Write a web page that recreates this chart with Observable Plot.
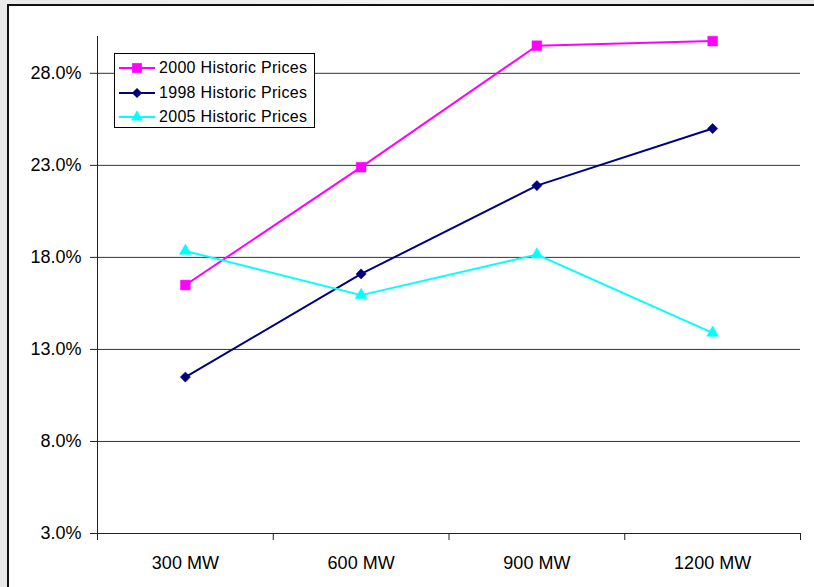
<!DOCTYPE html>
<html>
<head>
<meta charset="utf-8">
<script src="https://cdn.jsdelivr.net/npm/d3@7"></script>
<script src="https://cdn.jsdelivr.net/npm/@observablehq/plot@0.6"></script>
<style>
  html, body { margin: 0; padding: 0; }
  body {
    width: 814px; height: 587px; overflow: hidden; position: relative;
    background: linear-gradient(90deg, #e9e9e9 0%, #f3f3f3 50%, #e9e9e9 100%);
    font-family: "Liberation Sans", Arial, sans-serif;
  }
  #frame {
    position: absolute; left: 7px; top: 4px; width: 900px; height: 700px;
    background: white; border-left: 2px solid #111; border-top: 2px solid #111;
  }
  #chart { position: absolute; left: 0; top: 0; }
  #legend {
    position: absolute; left: 114px; top: 53px; width: 199px; height: 73px;
    border: 1px solid #000; background: white;
  }
  .item { position: absolute; left: 0; height: 24px; display: flex; align-items: center; }
  .item span { font-size: 16px; letter-spacing: 0.3px; color: #000; margin-left: 2px; }
</style>
</head>
<body>
<div id="frame"></div>
<div id="chart"></div>
<div id="legend"></div>
<script>
const categories = ["300 MW", "600 MW", "900 MW", "1200 MW"];
const seriesNames = ["2000 Historic Prices", "1998 Historic Prices", "2005 Historic Prices"];
const values2000 = [16.5, 22.9, 29.5, 29.75];
const values1998 = [11.5, 17.1, 21.9, 25.0];
const values2005 = [18.35, 15.95, 18.15, 13.9];
const seriesColors = ["#FF00FF", "#000080", "#00FFFF"];
const seriesSymbols = ["square", "diamond2", "triangle"];
const seriesRadius = [5.5, 4.6, 4.4];
const yTicks = [3, 8, 13, 18, 23, 28];
const gridTicks = [8, 13, 18, 23, 28];

const seriesValues = [values2000, values1998, values2005];
const data = [];
seriesValues.forEach((vals, s) => vals.forEach((v, i) => data.push({series: seriesNames[s], i, v})));
const idx = categories.map((c, i) => i);
const bounds = [-0.5, 0.5, 1.5, 2.5, 3.5];

const marks = [
  Plot.ruleY(gridTicks, {y: d => d, stroke: "#333", strokeWidth: 1}),
  Plot.ruleX([-0.5], {x: d => d, stroke: "#222", strokeWidth: 1}),
  Plot.ruleY([3], {y: d => d, stroke: "#222", strokeWidth: 1}),
  Plot.axisY(yTicks, {anchor: "left", label: null, tickSize: 7, tickPadding: 9, stroke: "#222",
    tickFormat: d => d.toFixed(1) + "%", fontSize: 18, fill: "#000",
    style: "letter-spacing:0.9px"}),
  Plot.axisX(bounds, {anchor: "bottom", label: null, tickSize: 7, tickFormat: () => "", stroke: "#222"}),
  Plot.axisX(idx, {anchor: "bottom", label: null, tickSize: 0, tickPadding: 23,
    tickFormat: i => categories[i], fontSize: 18, fill: "#000", style: "letter-spacing:0.9px"})
];
seriesNames.forEach((name, s) => {
  const d = data.filter(r => r.series === name);
  marks.push(Plot.line(d, {x: "i", y: "v", stroke: seriesColors[s], strokeWidth: 2}));
  marks.push(Plot.dot(d, {x: "i", y: "v", symbol: () => seriesSymbols[s], r: seriesRadius[s],
    fill: seriesColors[s], stroke: seriesColors[s], strokeWidth: 0.5}));
});

const chart = Plot.plot({
  width: 814, height: 587,
  marginLeft: 97, marginRight: 14, marginTop: 36, marginBottom: 54,
  style: {background: "transparent", fontFamily: "Liberation Sans, Arial, sans-serif", overflow: "visible"},
  x: {type: "linear", domain: [-0.5, 3.5], axis: null, label: null},
  y: {domain: [3, 30], axis: null, label: null},
  symbol: {type: "identity"},
  marks
});
document.getElementById("chart").appendChild(chart);

// legend
const legend = document.getElementById("legend");
const symbolPath = (name, r) => {
  const map = {square: d3.symbolSquare, diamond2: d3.symbolDiamond2, triangle: d3.symbolTriangle};
  return d3.symbol(map[name], r * r * Math.PI)();
};
seriesNames.forEach((name, s) => {
  const div = document.createElement("div");
  div.className = "item";
  div.style.top = (2 + s * 24.5) + "px";
  div.innerHTML = `<svg width="42" height="24" style="display:block">
      <line x1="4" x2="40" y1="12" y2="12" stroke="${seriesColors[s]}" stroke-width="2"/>
      <path transform="translate(22,12)" d="${symbolPath(seriesSymbols[s], seriesRadius[s])}" fill="${seriesColors[s]}"/>
    </svg><span>${name}</span>`;
  legend.appendChild(div);
});
</script>
</body>
</html>
